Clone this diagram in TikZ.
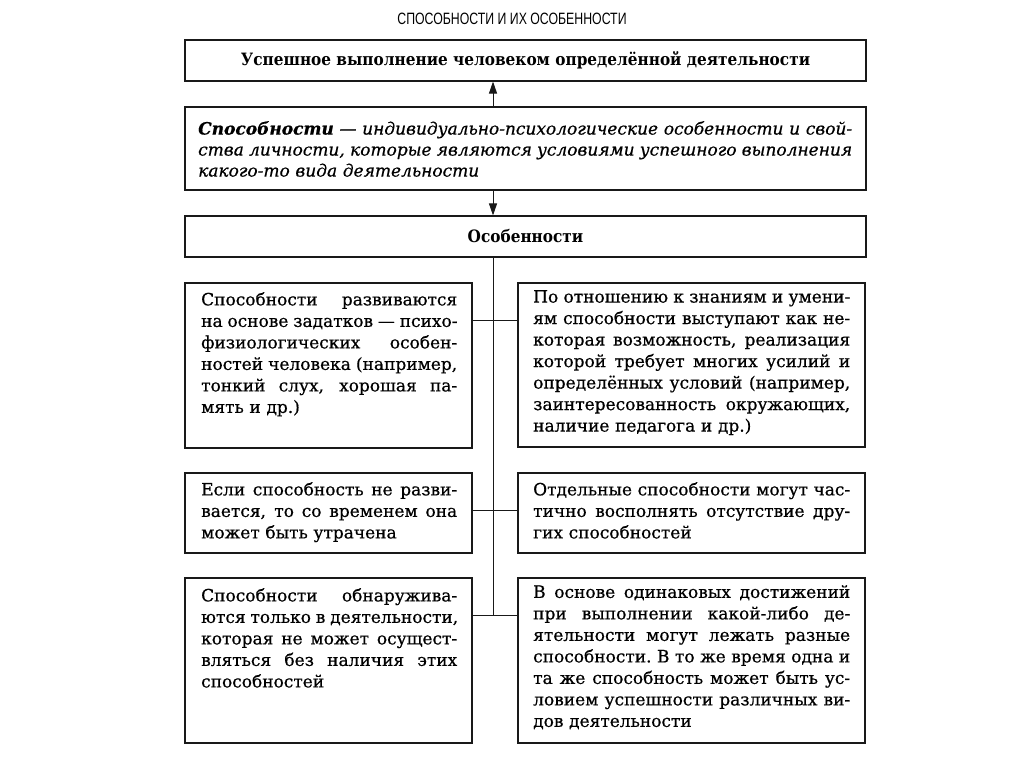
\documentclass[tikz,border=0pt]{standalone}
\usepackage{fontspec}
\setmainfont[FakeBold=0.6]{DejaVu Serif}
\newfontfamily\titlefont[FakeStretch=0.75]{Liberation Sans}
\newfontfamily\headfont[FakeStretch=0.9]{DejaVu Serif}
\usetikzlibrary{arrows.meta}
\newcommand\jl[1]{{\spaceskip=.3333em plus 1fil minus .05em\xspaceskip=.3333em plus 1fil minus .05em\makebox[\hsize][s]{#1}}}
\begin{document}
\begin{tikzpicture}[x=1pt,y=-1pt,
  box/.style={draw=black!90, line width=1.1pt, inner sep=0pt, rectangle},
  body/.style={font=\fontsize{17}{21.5}\selectfont, align=left, inner sep=0pt, anchor=north west},
  conn/.style={draw=black!90, line width=1pt},
  arr/.style={draw=black!90, line width=1pt, -{Triangle[length=12pt,width=8pt]}}]
\useasboundingbox[fill=white] (0,0) rectangle (1024,767);

% title
\node[font=\titlefont\fontsize{16.4}{18}\selectfont] (title) at (512,19) {СПОСОБНОСТИ И ИХ ОСОБЕННОСТИ};

% top boxes
\node[box, minimum width=681pt, minimum height=41pt, font=\headfont\bfseries\fontsize{17}{18}\selectfont] (b1) at (525.5,60.5)
  {Успешное выполнение человеком определённой деятельности};
\node[box, minimum width=681pt, minimum height=83pt] (b2) at (525.5,148.5) {};
\node[body, text width=654pt, font=\itshape\fontsize{17}{21}\selectfont] (t2) at (198,121)
  {\jl{\textbf{Способности} — индивидуально-психологические особенности и свой-}\\
   \jl{ства личности, которые являются условиями успешного выполнения}\\
   какого-то вида деятельности};
\node[box, minimum width=681pt, minimum height=41pt, font=\headfont\bfseries\fontsize{17}{18}\selectfont] (b3) at (525.5,236.5)
  {Особенности};

% junction coordinates on the spine
\coordinate (vx) at (493,0);
\coordinate (j1) at (493,320);
\coordinate (j2) at (493,510);
\coordinate (j3) at (493,615);

% lower boxes
\node[box, minimum width=287pt, minimum height=165pt] (l1) at (328.5,365.5) {};
\node[box, minimum width=347pt, minimum height=164pt] (r1) at (691.5,365) {};
\node[box, minimum width=287pt, minimum height=80pt] (l2) at (328.5,513) {};
\node[box, minimum width=347pt, minimum height=80pt] (r2) at (691.5,513) {};
\node[box, minimum width=287pt, minimum height=165pt] (l3) at (328.5,660.5) {};
\node[box, minimum width=347pt, minimum height=165pt] (r3) at (691.5,660.5) {};

\node[body, text width=256pt] (tl1) at (201,292)
  {\jl{Способности развиваются}\\
   \jl{на основе задатков — психо-}\\
   \jl{физиологических особен-}\\
   \jl{ностей человека (например,}\\
   \jl{тонкий слух, хорошая па-}\\
   мять и др.)};
\node[body, text width=317pt] (tr1) at (533,290)
  {\jl{По отношению к знаниям и умени-}\\
   \jl{ям способности выступают как не-}\\
   \jl{которая возможность, реализация}\\
   \jl{которой требует многих усилий и}\\
   \jl{определённых условий (например,}\\
   \jl{заинтересованность окружающих,}\\
   наличие педагога и др.)};
\node[body, text width=256pt] (tl2) at (201,482)
  {\jl{Если способность не разви-}\\
   \jl{вается, то со временем она}\\
   может быть утрачена};
\node[body, text width=317pt] (tr2) at (533,482)
  {\jl{Отдельные способности могут час-}\\
   \jl{тично восполнять отсутствие дру-}\\
   гих способностей};
\node[body, text width=256pt] (tl3) at (201,588)
  {\jl{Способности обнаружива-}\\
   \jl{ются только в деятельности,}\\
   \jl{которая не может осущест-}\\
   \jl{вляться без наличия этих}\\
   способностей};
\node[body, text width=317pt] (tr3) at (533,585)
  {\jl{В основе одинаковых достижений}\\
   \jl{при выполнении какой-либо де-}\\
   \jl{ятельности могут лежать разные}\\
   \jl{способности. В то же время одна и}\\
   \jl{та же способность может быть ус-}\\
   \jl{ловием успешности различных ви-}\\
   дов деятельности};

% connectors
\draw[arr] (b2.north -| vx) -- (b1.south -| vx);
\draw[arr] (b2.south -| vx) -- (b3.north -| vx);
\draw[conn] (b3.south -| vx) -- (j3);
\draw[conn] (l1.east |- j1) -- (r1.west |- j1);
\draw[conn] (l2.east |- j2) -- (r2.west |- j2);
\draw[conn] (l3.east |- j3) -- (r3.west |- j3);
\end{tikzpicture}
\end{document}
